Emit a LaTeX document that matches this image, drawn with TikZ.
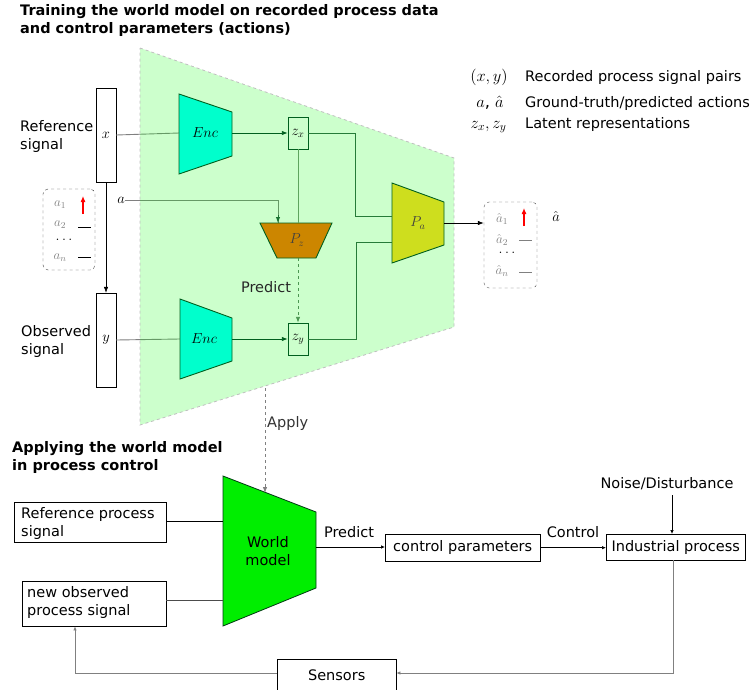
\RequirePackage{fix-cm}
\documentclass[tikz,border=0pt]{standalone}
\usepackage{fontspec}
\setmainfont{DejaVu Sans}
\usetikzlibrary{arrows.meta,calc}
\definecolor{areagreen}{RGB}{204,255,204}
\definecolor{dkgreen}{RGB}{0,95,30}
\definecolor{encfill}{RGB}{0,255,204}
\definecolor{pzfill}{RGB}{204,134,0}
\definecolor{pafill}{RGB}{206,222,30}
\definecolor{wmfill}{RGB}{0,238,0}
\definecolor{inline}{RGB}{95,165,95}
\begin{document}
\begin{tikzpicture}[x=1pt,y=-1pt,
  font=\fontsize{14.5}{18}\selectfont,
  sig/.style={draw, fill=white, minimum width=20pt, minimum height=94pt, inner sep=0pt},
  lat/.style={draw=dkgreen, minimum width=20pt, minimum height=32pt, inner sep=0pt},
  pbox/.style={draw, fill=white, inner sep=0pt},
  txt/.style={inner sep=0pt},
  legm/.style={txt, anchor=base, font=\fontsize{16.5}{18}\selectfont},
  ln/.style={draw=inline, line width=0.9pt},
  arr/.style={-{Latex[length=6pt,width=4.5pt]}},
  smarr/.style={-{Latex[length=4pt,width=3.5pt]}},
  trap/.style={draw=dkgreen, line width=0.9pt},
  graytxt/.style={txt, text=gray, font=\fontsize{13}{16}\selectfont}
]
\useasboundingbox (0,0) rectangle (756,689);

% ---------- titles ----------
\node[txt, anchor=north west, align=left, font=\fontsize{14.5}{18}\selectfont\bfseries] (t1) at (20,4)
  {Training the world model on recorded process data\\and control parameters (actions)};
\node[txt, anchor=north west, align=left, font=\fontsize{14.5}{18}\selectfont\bfseries] (t2) at (12,441)
  {Applying the world model\\in process control};

% ---------- signal boxes ----------
\node[sig] (xs) at (106,135) {$x$};
\node[sig] (ys) at (106,340) {$y$};
\node[txt, anchor=north west, align=left] (reflbl) at (20,120) {Reference\\signal};
\node[txt, anchor=north west, align=left] (obslbl) at (21,325) {Observed\\signal};
\draw[arr, line width=0.6pt] (xs.south) -- (ys.north);

% action box
\node[draw=black!75, dashed, rounded corners=5pt, minimum width=52pt, minimum height=81pt, inner sep=0pt] (abox) at (69,229.5) {};
\node[graytxt] (a1) at (60,205) {$a_1$};
\node[graytxt] (a2) at (60,225) {$a_2$};
\node[txt] (adots) at (64,240) {$\dots$};
\node[graytxt] (an) at (60,258) {$a_n$};
\coordinate (ar1) at (83,214); \coordinate (ar2) at (83,196);
\draw[red, line width=1.1pt, -{Latex[length=6pt,width=5pt]}] (ar1) -- (ar2);
\coordinate (d1a) at (78,227); \coordinate (d1b) at (91,227);
\coordinate (d2a) at (78,257); \coordinate (d2b) at (91,257);
\draw[line width=0.8pt] (d1a) -- (d1b);
\draw[line width=0.8pt] (d2a) -- (d2b);
\node[txt] (alab) at (121,200) {$a$};

% ---------- coordinates of shapes ----------
% Enc top
\coordinate (e1a) at (179,94); \coordinate (e1b) at (232,112);
\coordinate (e1c) at (232,156); \coordinate (e1d) at (179,174);
\coordinate (e1l) at (179,133); \coordinate (e1r) at (232,133);
% Enc bottom
\coordinate (e2a) at (180,299); \coordinate (e2b) at (232,318);
\coordinate (e2c) at (232,361); \coordinate (e2d) at (180,379);
\coordinate (e2l) at (180,339); \coordinate (e2r) at (232,339);
% Pz
\coordinate (pza) at (260,223); \coordinate (pzb) at (332,223);
\coordinate (pzc) at (316,258); \coordinate (pzd) at (277,258);
\coordinate (pzt) at (298,223); \coordinate (pztl) at (278,223); \coordinate (pzbot) at (298,258);
% Pa
\coordinate (paa) at (392,183); \coordinate (pab) at (444,202);
\coordinate (pac) at (444,245); \coordinate (pad) at (392,263);
\coordinate (pal1) at (392,216); \coordinate (pal2) at (392,242);
\coordinate (par) at (444,223);

% ---------- connectors under the green area ----------
\draw[gray, line width=0.9pt] (xs.east) -- (e1l);
\draw[gray, line width=0.9pt] (ys.east) -- (e2l);
\draw[gray, line width=0.9pt] (alab.east) -- (pztl |- alab.east) -- (pztl);

% ---------- green area ----------
\coordinate (g1) at (140,48); \coordinate (g2) at (454,158);
\coordinate (g3) at (454,327); \coordinate (g4) at (140,425);
\fill[green, fill opacity=0.2] (g1) -- (g2) -- (g3) -- (g4) -- cycle;
\draw[gray!50, dashed, line width=0.8pt] (g1) -- (g2) -- (g3) -- (g4) -- cycle;

% arrow tip a -> Pz
\draw[ln, arr, draw=dkgreen!70!inline] ($(pztl)+(0,-8)$) -- (pztl);

% ---------- shapes ----------
\filldraw[trap, fill=encfill] (e1a) -- (e1b) -- (e1c) -- (e1d) -- cycle;
\node[txt] (enc1) at (205,133) {$Enc$};
\filldraw[trap, fill=encfill] (e2a) -- (e2b) -- (e2c) -- (e2d) -- cycle;
\node[txt] (enc2) at (204,339) {$Enc$};
\filldraw[trap, fill=pzfill] (pza) -- (pzb) -- (pzc) -- (pzd) -- cycle;
\node[txt, text=black!75] (pz) at (297,240) {$P_z$};
\filldraw[trap, fill=pafill] (paa) -- (pab) -- (pac) -- (pad) -- cycle;
\node[txt, text=black!75] (pa) at (418,223) {$P_a$};

\node[lat] (zx) at (298,133) {$z_x$};
\node[lat] (zy) at (298,339) {$z_y$};

% inner connectors
\draw[ln, draw=dkgreen, arr] (e1r) -- (zx.west);
\draw[ln, draw=dkgreen, arr] (e2r) -- (zy.west);
\draw[ln] (zx.south) -- (pzt);
\draw[ln, dashed, arr, draw=inline!80!dkgreen] (pzbot) -- (zy.north);
\node[txt, text=black!85] (predlbl) at (266,287) {Predict};
\coordinate (j1) at (355,133); \coordinate (j2) at (356,339);
\draw[ln, draw=dkgreen!60!inline] (zx.east) -- (j1) -- (j1 |- pal1) -- (pal1);
\draw[ln, draw=dkgreen!60!inline] (zy.east) -- (j2) -- (j2 |- pal2) -- (pal2);

% output box
\node[draw, dashed, gray!70!black, rounded corners=5pt, minimum width=53pt, minimum height=86pt, inner sep=0pt] (ahbox) at (510.5,245) {};
\draw[arr, line width=0.7pt] (par) -- (ahbox.west |- par);
\node[graytxt] (ah1) at (502,219) {$\hat a_1$};
\node[graytxt] (ah2) at (502,240) {$\hat a_2$};
\node[txt] (ahdots) at (507,253) {$\dots$};
\node[graytxt] (ahn) at (502,271) {$\hat a_n$};
\coordinate (hr1) at (524,226); \coordinate (hr2) at (524,208);
\draw[red, line width=1.1pt, -{Latex[length=6pt,width=5pt]}] (hr1) -- (hr2);
\coordinate (h1a) at (519,240); \coordinate (h1b) at (532,240);
\coordinate (h2a) at (519,272); \coordinate (h2b) at (532,272);
\draw[gray, line width=0.8pt] (h1a) -- (h1b);
\draw[gray, line width=0.8pt] (h2a) -- (h2b);
\node[txt] (ahlab) at (556,216) {$\hat a$};

% legend
\node[legm] (lg1m) at (489,81) {$(x,y)$};
\node[txt, anchor=base west] (lg1t) at (525,81) {Recorded process signal pairs};
\node[legm] (lg2m) at (490,107) {$a$, $\hat a$};
\node[txt, anchor=base west] (lg2t) at (525,107) {Ground-truth/predicted actions};
\node[legm] (lg3m) at (488.5,128) {$z_x,z_y$};
\node[txt, anchor=base west] (lg3t) at (525,128) {Latent representations};

% ---------- bottom section ----------
\coordinate (w1) at (223,476); \coordinate (w2) at (316,512);
\coordinate (w3) at (316,588); \coordinate (w4) at (223,626);
\coordinate (wtop) at (265,493);
\filldraw[fill=wmfill, draw=dkgreen!60!black, line width=0.8pt] (w1) -- (w2) -- (w3) -- (w4) -- cycle;
\node[txt, align=center] (wm) at (268,551) {World\\model};
\coordinate (wl1) at (223,521); \coordinate (wl2) at (223,600);
\coordinate (wr) at (316,547);

\coordinate (applytop) at (265,388);
\draw[gray, dashed, line width=0.8pt, -{Latex[length=6pt,width=4.5pt]}] (applytop) -- (wtop);
\node[txt, anchor=west, text=black!80] (applylbl) at (267,423) {Apply};

\node[pbox, minimum width=152pt, minimum height=40pt, anchor=north west] (refp) at (14,502) {};
\node[txt, anchor=north west, align=left] (refpt) at (21,507) {Reference process\\signal};
\node[pbox, minimum width=144pt, minimum height=45pt, anchor=north west] (obsp) at (22,581) {};
\node[txt, anchor=north west, align=left] (obspt) at (27,586) {new observed\\process signal};
\draw[line width=0.8pt] (refp.east |- wl1) -- (wl1);
\draw[line width=0.8pt, black!70] (obsp.east |- wl2) -- (wl2);

\node[pbox, minimum width=155pt, minimum height=27pt, anchor=north west] (cp) at (385,534) {control parameters};
\node[pbox, minimum width=139pt, minimum height=26pt, anchor=north west] (ip) at (606,534) {Industrial process};
\draw[line width=0.7pt, smarr] (wr) -- (cp.west |- wr);
\node[txt, anchor=base] (predlbl2) at (349,537) {Predict};
\draw[line width=0.7pt, smarr] (cp.east) -- (ip.west |- cp.east);
\node[txt, anchor=base] (ctrllbl) at (573,537) {Control};
\node[txt, anchor=base] (noise) at (667,488) {Noise/Disturbance};
\coordinate (nz) at (672,495);
\draw[line width=0.7pt, smarr] (nz) -- (nz |- ip.north);

\node[pbox, minimum width=119pt, minimum height=32pt, anchor=north west] (sens) at (277,659) {Sensors};
\coordinate (ipb) at (673,560);
\coordinate (fb1) at (673,673);
\draw[gray, line width=0.8pt, smarr] (ipb) -- (fb1) -- (sens.east |- fb1);
\coordinate (fb2) at (75,673);
\draw[gray, line width=0.8pt, smarr] (sens.west |- fb2) -- (fb2) -- (fb2 |- obsp.south);
\end{tikzpicture}
\end{document}
